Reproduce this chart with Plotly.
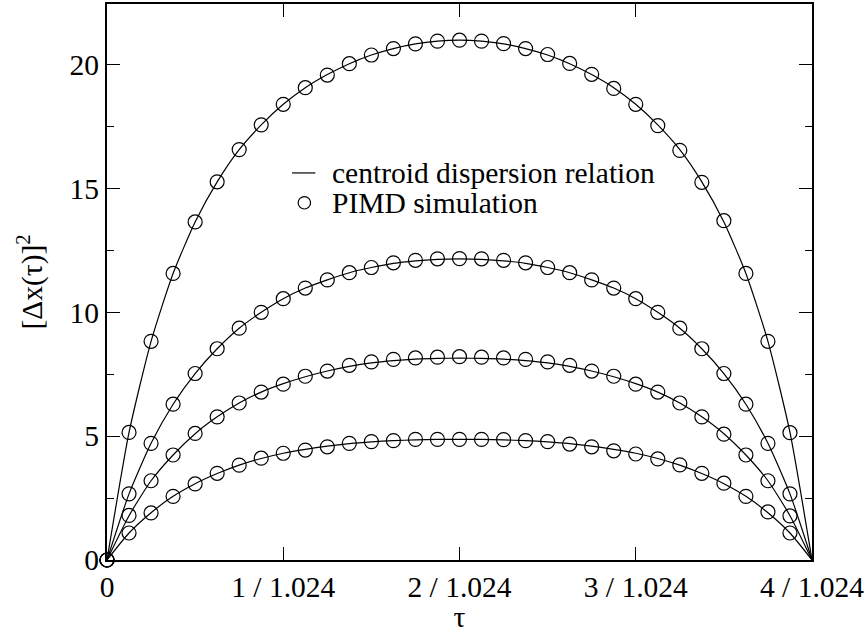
import plotly.graph_objects as go

# ---- data ----
tau_end = 4 / 1.024
n_int = 32
tau = [tau_end * i / n_int for i in range(n_int + 1)]  # grid of 33 tau values (0 .. 4/1.024)

# PIMD simulation points (i = 0 .. 31)
pimd_a = [0, 5.15, 8.83, 11.57, 13.65, 15.27, 16.57, 17.57, 18.40, 19.07, 19.58, 20.04, 20.39, 20.65, 20.84, 20.95, 20.99,
          20.95, 20.85, 20.65, 20.41, 20.05, 19.61, 19.04, 18.40, 17.54, 16.54, 15.25, 13.70, 11.57, 8.83, 5.14]
pimd_b = [0, 2.67, 4.71, 6.29, 7.53, 8.53, 9.36, 10.00, 10.55, 10.98, 11.31, 11.60, 11.81, 12.00, 12.10, 12.16, 12.17,
          12.16, 12.10, 12.00, 11.81, 11.60, 11.31, 10.98, 10.55, 10.00, 9.36, 8.53, 7.53, 6.29, 4.71, 2.67]
pimd_c = [0, 1.80, 3.20, 4.24, 5.11, 5.78, 6.34, 6.78, 7.10, 7.42, 7.63, 7.86, 8.00, 8.10, 8.16, 8.19, 8.21,
          8.19, 8.16, 8.10, 8.00, 7.86, 7.63, 7.42, 7.10, 6.78, 6.34, 5.78, 5.08, 4.24, 3.20, 1.78]
pimd_d = [0, 1.09, 1.90, 2.57, 3.07, 3.50, 3.83, 4.11, 4.31, 4.44, 4.57, 4.71, 4.78, 4.82, 4.87, 4.87, 4.87,
          4.87, 4.86, 4.82, 4.78, 4.68, 4.57, 4.41, 4.28, 4.08, 3.84, 3.50, 3.10, 2.57, 1.94, 1.09]

# centroid dispersion relation curves (i = 0 .. 32)
cdr_a = [0, 5.15, 8.83, 11.57, 13.65, 15.27, 16.57, 17.57, 18.40, 19.07, 19.60, 20.04, 20.39, 20.65, 20.84, 20.95, 20.99,
         20.95, 20.84, 20.65, 20.39, 20.04, 19.60, 19.07, 18.40, 17.57, 16.57, 15.27, 13.65, 11.57, 8.83, 5.15, 0]
cdr_b = [0, 2.67, 4.71, 6.29, 7.53, 8.53, 9.36, 10.00, 10.55, 10.98, 11.31, 11.60, 11.81, 11.98, 12.08, 12.14, 12.16,
         12.14, 12.08, 11.98, 11.81, 11.60, 11.31, 10.98, 10.55, 10.00, 9.36, 8.53, 7.53, 6.29, 4.71, 2.67, 0]
cdr_c = [0, 1.79, 3.20, 4.24, 5.10, 5.78, 6.34, 6.78, 7.12, 7.40, 7.63, 7.82, 7.96, 8.05, 8.11, 8.14, 8.15,
         8.14, 8.11, 8.05, 7.96, 7.82, 7.63, 7.40, 7.12, 6.78, 6.34, 5.78, 5.10, 4.24, 3.20, 1.79, 0]
cdr_d = [0, 1.09, 1.91, 2.57, 3.08, 3.49, 3.83, 4.10, 4.31, 4.47, 4.60, 4.70, 4.77, 4.82, 4.85, 4.87, 4.87,
         4.87, 4.85, 4.82, 4.77, 4.70, 4.60, 4.47, 4.31, 4.10, 3.83, 3.49, 3.08, 2.57, 1.91, 1.09, 0]

x_tickvals = [0, 1 / 1.024, 2 / 1.024, 3 / 1.024, 4 / 1.024]
x_ticktext = ["0", "1 / 1.024", "2 / 1.024", "3 / 1.024", "4 / 1.024"]
y_tickvals = [0, 5, 10, 15, 20]

legend_labels = ["centroid dispersion relation", "PIMD simulation"]

# ---- figure ----
FONT = "Liberation Serif"
FS = 29.5
fig = go.Figure()

for ys in (cdr_a, cdr_b, cdr_c, cdr_d):
    fig.add_trace(go.Scatter(x=tau, y=ys, mode="lines", showlegend=False,
                             line=dict(color="black", width=1.2, shape="spline", smoothing=0.6),
                             cliponaxis=False, hoverinfo="skip"))

for ys in (pimd_a, pimd_b, pimd_c, pimd_d):
    fig.add_trace(go.Scatter(x=tau[:len(ys)], y=ys, mode="markers", showlegend=False,
                             marker=dict(symbol="circle-open", size=14, color="black",
                                         line=dict(color="black", width=1.2)),
                             cliponaxis=False))

W, H = 868, 633
L, R, T, B = 106.5, 812.0, 2.0, 560.5


def px2paper(px, py):
    return (px - L) / (R - L), (B - py) / (B - T)


# hand-placed legend
lx0, ly0 = px2paper(291.7, 171.7)
lx1, _ = px2paper(315.0, 171.7)
fig.add_shape(type="line", xref="paper", yref="paper", x0=lx0, x1=lx1, y0=ly0, y1=ly0,
              line=dict(color="black", width=1.2))
cx, cy = px2paper(304.0, 201.7)
fig.add_shape(type="circle", xref="paper", yref="paper", xsizemode="pixel", ysizemode="pixel",
              xanchor=cx, yanchor=cy, x0=-6.2, x1=6.2, y0=-6.2, y1=6.2,
              line=dict(color="black", width=1.2))
for label, py in zip(legend_labels, (171.7, 201.7)):
    ax, ay = px2paper(330.0, py)
    fig.add_annotation(x=ax, y=ay, xref="paper", yref="paper", text=label, showarrow=False,
                       xanchor="left", yanchor="middle", font=dict(family=FONT, size=FS, color="black"))

fig.update_layout(
    width=W, height=H,
    margin=dict(l=L, r=W - R, t=T, b=H - B, pad=0),
    paper_bgcolor="white", plot_bgcolor="white",
    font=dict(family=FONT, size=FS, color="black"),
    showlegend=False,
)
fig.update_xaxes(range=[0, tau_end], tickvals=x_tickvals, ticktext=x_ticktext,
                 ticks="inside", ticklen=13, tickwidth=1, tickcolor="black",
                 showline=True, linecolor="black", linewidth=2, mirror="ticks",
                 showgrid=False, zeroline=False,
                 tickfont=dict(family=FONT, size=FS),
                 title=dict(text="τ", font=dict(family=FONT, size=FS), standoff=0))
fig.update_yaxes(range=[0, 22.45], tickvals=y_tickvals,
                 ticks="inside", ticklen=13, tickwidth=1, tickcolor="black",
                 minor=dict(dtick=2.5, ticks="inside", ticklen=7, tickwidth=1, tickcolor="black"),
                 showline=True, linecolor="black", linewidth=2, mirror="ticks",
                 showgrid=False, zeroline=False,
                 tickfont=dict(family=FONT, size=FS),
                 title=dict(text="[Δx(τ)]<sup>2</sup>", font=dict(family=FONT, size=FS), standoff=18))

fig.write_html("out.html")
